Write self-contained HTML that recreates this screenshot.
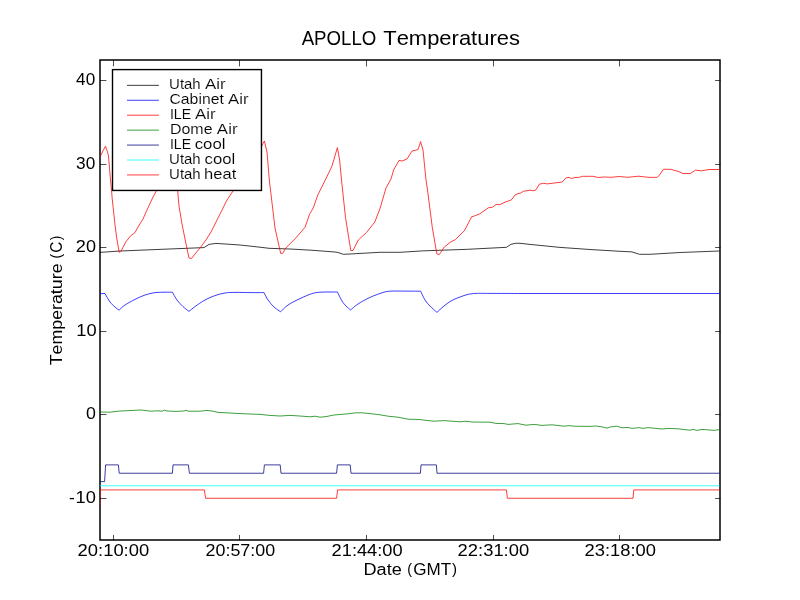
<!DOCTYPE html>
<html><head><meta charset="utf-8"><title>APOLLO Temperatures</title>
<style>
html,body{margin:0;padding:0;background:#fff;}
body{width:800px;height:600px;overflow:hidden;font-family:"Liberation Sans",sans-serif;}
svg{display:block;will-change:transform;}
text{font-family:"Liberation Sans",sans-serif;fill:#000;font-kerning:none;}
.lg text{stroke:#fff;stroke-width:0.12px;}
</style></head><body>
<svg width="800" height="600" viewBox="0 0 800 600">
<rect x="0" y="0" width="800" height="600" fill="#fff"/>
<defs><clipPath id="ax"><rect x="100" y="60" width="620" height="480"/></clipPath></defs>
<rect x="100" y="60" width="620" height="480" fill="none" stroke="#000" stroke-width="1.5"/>
<g clip-path="url(#ax)">
<polyline points="100,252.4 120,251 204,247.6 209,244.4 216,243.4 240,245 260,247.2 269,248.3 290,249 311,250.2 335,252 338,252.5 343.3,254.3 350,254 380,252.3 400,252.3 422.5,250.9 467.5,249.3 506.5,247.3 511,244.3 515.5,243.3 520,243.3 530,244.4 560,247.4 590,249.5 620,251.3 632,251.9 639.5,254.3 650,254.3 680,252.5 719.5,251" fill="none" stroke="#000" stroke-width="0.76" stroke-linejoin="round"/>
<path d="M100,293.6L105,293.6L105,293.6C105.83,295.00 108.33,299.77 110,302C111.67,304.23 113.50,305.63 115,307C116.50,308.37 118.33,309.67 119,310.2L119,310.2C120.00,309.33 122.33,306.80 125,305C127.67,303.20 131.67,301.07 135,299.4C138.33,297.73 141.67,296.13 145,295C148.33,293.87 151.67,293.07 155,292.6C158.33,292.13 162.10,292.27 165,292.2C167.90,292.13 171.17,292.20 172.4,292.2L172.4,292.2C173.17,293.50 175.23,297.60 177,300C178.77,302.40 181.00,304.70 183,306.6C185.00,308.50 188.00,310.60 189,311.4L189,311.4C190.00,310.60 192.33,308.50 195,306.6C197.67,304.70 201.67,301.83 205,300C208.33,298.17 211.67,296.77 215,295.6C218.33,294.43 221.67,293.53 225,293C228.33,292.47 230.83,292.47 235,292.4C239.17,292.33 245.17,292.57 250,292.6C254.83,292.63 261.67,292.60 264,292.6L264,292.6C264.67,293.83 266.33,297.60 268,300C269.67,302.40 271.90,305.03 274,307C276.10,308.97 279.50,311.00 280.6,311.8L280.6,311.8C281.83,310.67 284.77,307.20 288,305C291.23,302.80 296.00,300.50 300,298.6C304.00,296.70 308.67,294.67 312,293.6C315.33,292.53 317.00,292.47 320,292.2C323.00,291.93 327.10,292.03 330,292C332.90,291.97 336.17,292.00 337.4,292L337.4,292C338.17,293.50 340.57,298.67 342,301C343.43,303.33 344.57,304.50 346,306C347.43,307.50 349.83,309.33 350.6,310L350.6,310C351.83,309.00 354.77,306.10 358,304C361.23,301.90 365.67,299.37 370,297.4C374.33,295.43 380.33,293.25 384,292.2C387.67,291.15 388.50,291.28 392,291.1C395.50,290.92 400.23,291.08 405,291.1C409.77,291.12 418.00,291.18 420.6,291.2L420.6,291.2C421.33,292.67 423.43,297.53 425,300C426.57,302.47 428.00,303.93 430,306C432.00,308.07 435.83,311.33 437,312.4L437,312.4C438.17,311.33 441.50,308.00 444,306C446.50,304.00 449.33,301.90 452,300.4C454.67,298.90 457.33,298.00 460,297C462.67,296.00 465.33,295.00 468,294.4C470.67,293.80 472.33,293.57 476,293.4C479.67,293.23 482.67,293.38 490,293.4C497.33,293.42 515.00,293.48 520,293.5L520,293.5L719.5,293.5" fill="none" stroke="#00f" stroke-width="0.76" stroke-linejoin="round"/>
<polyline points="100,157 103,150.8 105.5,146.2 106.6,149.5 107.5,152 108.5,156 109.5,168 110.5,180 111.5,190 112.2,198.5 114.75,222.5 116.6,237.5 119.1,251.9 120,252.3 121,251.3 122.9,247.5 126,241.6 130.5,236 135,232.6 138,227 143,219 147,210 153,197 157,190 163,178 168,165 172,151 174.5,141 176,160 177.6,190 179,206 182,224 186,244 189,258 191.6,258.4 195,254 200,248 206,240 211,232 216,222 221,212 227,200 233,191 240,180 248,167 255,156 261.6,146 264.4,141 267,152 269.3,180 275,228 280.7,253.5 282.8,253.2 285.5,248.3 296,237.8 305,227.3 309.5,214.5 313.3,207.8 317.8,195 325.3,180 332,166 337.4,147.6 339.6,160 341.5,180 345.5,217.5 350.8,250.5 353,250.5 358.3,240 366.5,232.5 374.8,222 380,208.5 386,188 391,179 393.6,170 399,160.4 402,161 407,159 412,151 418,149.6 420.6,141.6 423,150 426,180 427.5,190 432.3,227.5 436.8,253.8 439.3,254.5 440.8,252.3 444.3,247 451,241.8 455.5,239.5 464.5,230.5 471.7,216.7 473.5,216.3 479.5,214 488.5,207.7 492.3,207.3 496,204.6 499.8,204.6 506,201.8 511.3,200 515,195 518,193.5 520.3,193.2 523.3,191.3 530,190.2 533.8,190.8 536,189.8 539.3,184.2 543.5,183.3 547.3,183.9 562.3,182 566,177.8 569,177.3 571.3,178.5 575,177.5 579.5,177.3 582.5,176.3 593,176.3 598.3,177.5 603.5,177 611,177.3 619,176.5 628,177.3 638.5,176.2 649,177.4 657.3,177.3 659.5,175 663.3,169.3 670.8,169.3 679,171.7 682.8,173.5 690.3,173.5 695.5,170.2 701.5,170.8 709,169.5 719.5,169.5" fill="none" stroke="#f00" stroke-width="0.76" stroke-linejoin="round"/>
<polyline points="100,412 110,412.2 120,411 130,410.6 140,410 145,410.4 150,411.2 158,410.8 162,411.2 164.4,410.2 167,411 176,411.4 184,411 186,410.2 188,411.2 200,411.2 207,410.4 212,411 218,412.4 230,413 240,413.6 250,414 260,414.4 270,415.4 280,416 290,415.4 300,416 310,416.8 315,416.2 320,417.2 326,416.6 334,415 346,414 356,412.8 362,412.8 370,413.6 380,414.8 388,416.2 398,417.2 408,419.2 416,419.4 420,419.6 426,420.4 434,421.2 444,420.6 460,421.8 466,421.2 472,422 490,422.2 496,423.4 504,423.6 508,424.4 518,423.6 526,425.2 534,424.4 542,425.4 552,424.8 564,426.2 569,425.6 574,426.2 590,426.4 596,426 603,427 607,428.2 610,427 617,426.2 622,427.8 628,427.4 632,428.4 639,427.6 643,428.4 648,427.6 662,429 668,428.4 678,428.8 690,430.2 693,429.4 697,430.4 702,429.4 714,430.4 719.5,429.6" fill="none" stroke="#008000" stroke-width="0.76" stroke-linejoin="round"/>
<polyline points="100,481.58 104.6,481.58 105.6,464.89 118.4,464.89 119.2,473.24 172.4,473.24 173,464.89 188.4,464.89 189.4,473.24 263.6,473.24 264.4,464.89 280.2,464.89 281,473.24 336.6,473.24 337.4,464.89 350.2,464.89 351,473.24 420.4,473.24 421,464.89 436.4,464.89 437,473.24 719.5,473.24" fill="none" stroke="#000080" stroke-width="0.76" stroke-linejoin="round"/>
<polyline points="100,485.76 719.5,485.76" fill="none" stroke="#0ff" stroke-width="0.76" stroke-linejoin="round"/>
<polyline points="100,506.63 100,489.93 204.4,489.93 205.6,498.28 336.6,498.28 337.6,489.93 506.4,489.93 507.4,498.28 633,498.28 633.8,489.93 719.5,489.93" fill="none" stroke="#f00" stroke-width="0.76" stroke-linejoin="round"/>
</g>
<path d="M113.5,540.5V535M113.5,60V66.4M239.5,540.5V535M239.5,60V66.4M366.5,540.5V535M366.5,60V66.4M493.5,540.5V535M493.5,60V66.4M619.5,540.5V535M619.5,60V66.4M100,80.5H106.4M720.5,80.5H715.1M100,164.5H106.4M720.5,164.5H715.1M100,247.5H106.4M720.5,247.5H715.1M100,331.5H106.4M720.5,331.5H715.1M100,414.5H106.4M720.5,414.5H715.1M100,498.5H106.4M720.5,498.5H715.1" stroke="#000" stroke-width="0.7" fill="none"/>
<rect x="112.5" y="69.6" width="148.95" height="120.85" fill="#fff" stroke="#000" stroke-width="1.39"/>
<line x1="127" y1="85.35" x2="158.9" y2="85.35" stroke="#000" stroke-width="0.76"/>
<g class="lg"><text transform="translate(169.09,89.00) scale(1.0326,1)" font-size="14.5">Utah</text><text transform="translate(204.97,89.00) scale(1.1603,1)" font-size="14.5">Air</text></g>
<line x1="127" y1="100.28" x2="158.9" y2="100.28" stroke="#00f" stroke-width="0.76"/>
<g class="lg"><text transform="translate(169.45,104.00) scale(1.0888,1)" font-size="14.5">Cabinet</text><text transform="translate(228.07,104.00) scale(1.1517,1)" font-size="14.5">Air</text></g>
<line x1="127" y1="115.21" x2="158.9" y2="115.21" stroke="#f00" stroke-width="0.76"/>
<g class="lg"><text transform="translate(169.94,119.00) scale(0.9771,1)" font-size="14.5">ILE</text><text transform="translate(194.97,119.00) scale(1.1603,1)" font-size="14.5">Air</text></g>
<line x1="127" y1="130.14" x2="158.9" y2="130.14" stroke="#008000" stroke-width="0.76"/>
<g class="lg"><text transform="translate(169.94,134.00) scale(1.1033,1)" font-size="14.5">Dome</text><text transform="translate(216.87,134.00) scale(1.1660,1)" font-size="14.5">Air</text></g>
<line x1="127" y1="145.07" x2="158.9" y2="145.07" stroke="#000080" stroke-width="0.76"/>
<g class="lg"><text transform="translate(169.94,149.00) scale(0.9771,1)" font-size="14.5">ILE</text><text transform="translate(194.69,149.00) scale(1.1594,1)" font-size="14.5">cool</text></g>
<line x1="127" y1="160.00" x2="158.9" y2="160.00" stroke="#0ff" stroke-width="0.76"/>
<g class="lg"><text transform="translate(169.09,164.00) scale(1.0326,1)" font-size="14.5">Utah</text><text transform="translate(204.54,164.00) scale(1.1534,1)" font-size="14.5">cool</text></g>
<line x1="127" y1="174.93" x2="158.9" y2="174.93" stroke="#f00" stroke-width="0.76"/>
<g class="lg"><text transform="translate(169.09,179.00) scale(1.0326,1)" font-size="14.5">Utah</text><text transform="translate(204.10,179.00) scale(1.1435,1)" font-size="14.5">heat</text></g>
<text transform="translate(77.57,556.00) scale(1.0639,1)" font-size="17.3">20:10:00</text>
<text transform="translate(205.60,556.00) scale(1.0335,1)" font-size="17.3">20:57:00</text>
<text transform="translate(331.58,556.00) scale(1.0563,1)" font-size="17.3">21:44:00</text>
<text transform="translate(457.57,556.00) scale(1.0639,1)" font-size="17.3">22:31:00</text>
<text transform="translate(584.58,556.00) scale(1.0609,1)" font-size="17.3">23:18:00</text>
<text transform="translate(76.11,85.00) scale(0.9906,1)" font-size="17.3">40</text>
<text transform="translate(76.09,169.00) scale(0.9967,1)" font-size="17.3">30</text>
<text transform="translate(75.84,252.00) scale(1.0454,1)" font-size="17.3">20</text>
<text transform="translate(76.36,336.00) scale(1.0580,1)" font-size="17.3">10</text>
<text transform="translate(86.06,419.00) scale(1.0278,1)" font-size="17.3">0</text>
<text transform="translate(68.98,503.00) scale(1.0062,1)" font-size="17.3">-</text><text transform="translate(75.61,503.00) scale(1.0580,1)" font-size="17.3">10</text>
<text transform="translate(301.66,45.00) scale(0.9176,1)" font-size="20.35">APOLLO</text><text transform="translate(383.26,45.00) scale(1.0795,1)" font-size="20.35">Temperatures</text>
<text transform="translate(363.51,575.00) scale(1.0479,1)" font-size="17.3">Date</text><text transform="translate(407.21,574.00) scale(0.9247,1)" font-size="15.5">(</text><text transform="translate(413.24,575.00) scale(0.9874,1)" font-size="17.3">GMT</text><text transform="translate(451.91,574.00) scale(0.9733,1)" font-size="15.5">)</text>
<text transform="translate(62.00,365.30) rotate(-90) scale(1.0298,1)" font-size="17.3">Temperature</text><text transform="translate(61.00,258.60) rotate(-90) scale(0.8882,1)" font-size="15.5">(</text><text transform="translate(62.00,252.63) rotate(-90) scale(0.8899,1)" font-size="17.3">C</text><text transform="translate(61.00,240.13) rotate(-90) scale(0.8882,1)" font-size="15.5">)</text>
</svg></body></html>
